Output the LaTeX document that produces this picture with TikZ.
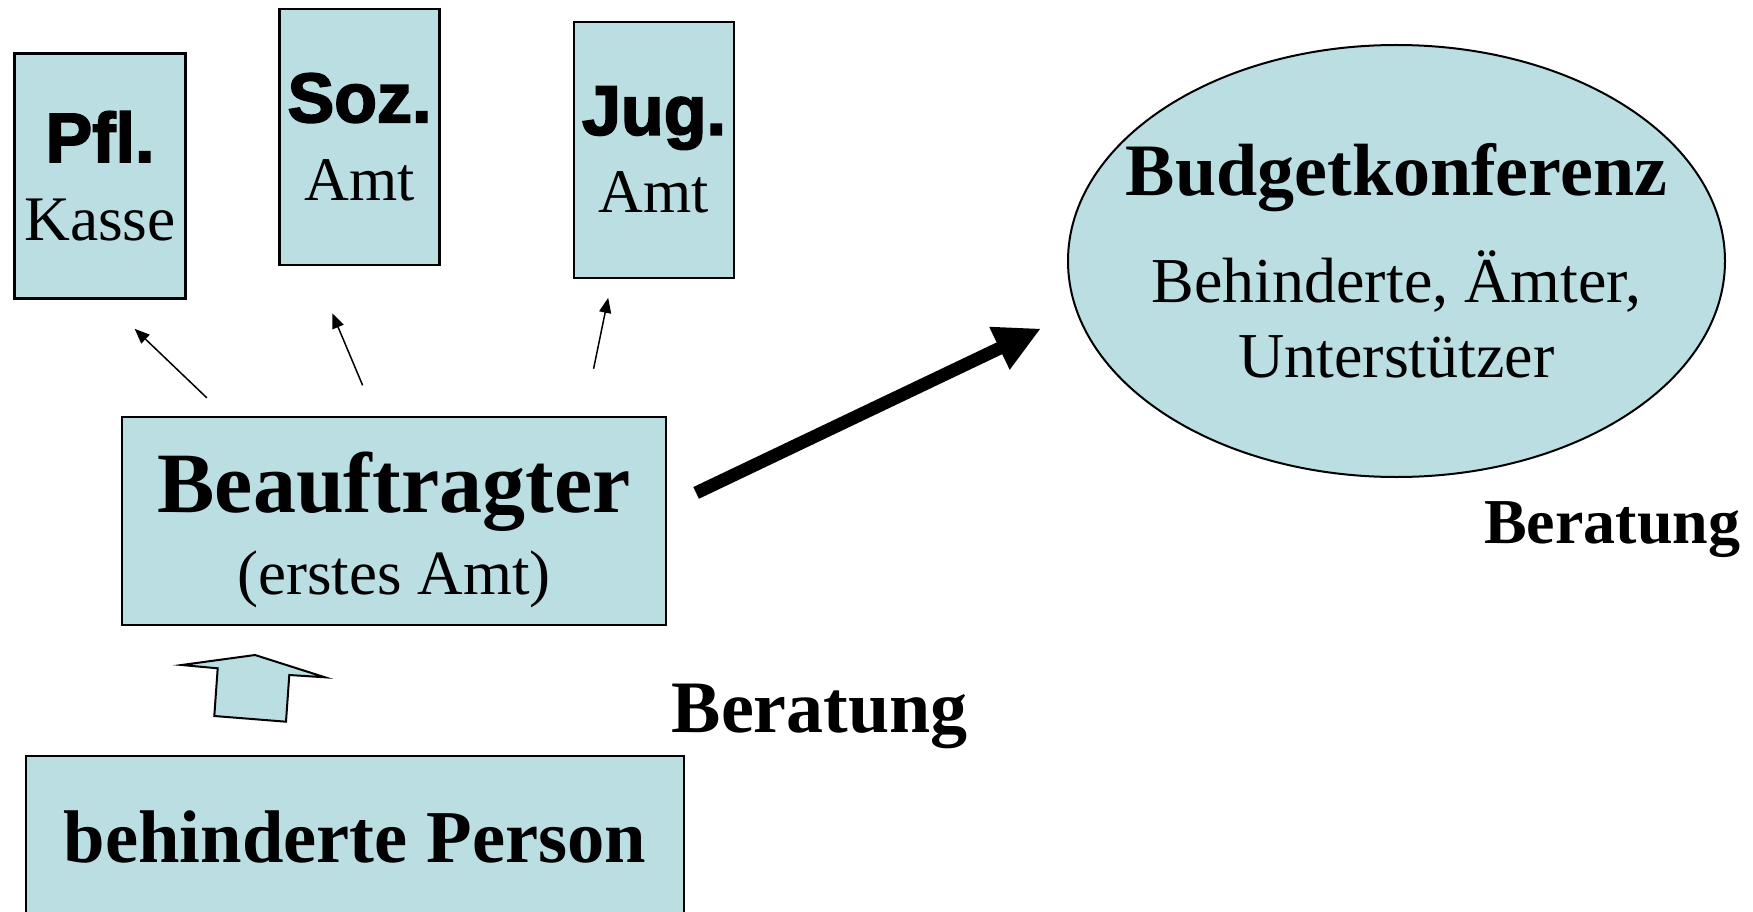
\documentclass[tikz,border=0pt]{standalone}
\usepackage{fontspec}
\setmainfont{Liberation Serif}
\newfontfamily\amtsans[FakeBold=2.5]{Liberation Sans}
\usetikzlibrary{arrows.meta,shapes.geometric}
\definecolor{budget@blue}{RGB}{187,222,227}
\newcommand\amthead[1]{{\amtsans\bfseries\fontsize{70}{78}\selectfont #1}}
\tikzset{
  budget/.style={
    x=1pt, y=-1pt,
    >={Triangle[length=15pt,width=12pt]},
    line width=1.5pt
  },
  amtbox/.style={                  % small office box
    draw, line width=2.5pt,
    fill=budget@blue,
    align=center,
    inner sep=0pt,
    minimum width=160pt,
    minimum height=256pt,
    font=\fontsize{62}{78}\selectfont
  },
  mainbox/.style={                 % wide box
    draw, line width=2.5pt,
    fill=budget@blue,
    align=center,
    inner sep=0pt
  },
  confell/.style={                 % conference ellipse
    ellipse, draw, line width=2pt,
    fill=budget@blue,
    align=center,
    inner xsep=-60pt, inner ysep=0pt,
    minimum width=657pt,
    minimum height=432pt,
    font=\fontsize{64}{75}\selectfont
  },
  amtarrow/.style={->, line width=1.5pt},
  bigarrow/.style={-{Triangle[length=46pt,width=44pt]}, line width=13pt},
  blockarrow/.style={draw, fill=budget@blue, line width=2pt, line join=miter},
  beratung/.style={font=\bfseries\fontsize{74}{74}\selectfont, inner sep=0pt}
}
\begin{document}
\begin{tikzpicture}[budget]
\useasboundingbox (0,0) rectangle (1753,912);
\clip (0,0) rectangle (1753,912);

% Offices in a row at the top
\node[amtbox, minimum width=171pt, minimum height=245pt,
  font=\fontsize{63.5}{78}\selectfont] (pfl) at (100,176)
  {\amthead{Pfl.}\\Kasse};
\node[amtbox] (soz) at (359.5,137) {\amthead{Soz.}\\Amt};
\node[amtbox] (jug) at (654,150) {\amthead{Jug.}\\Amt};

% First office
\node[mainbox, minimum width=544pt, minimum height=208pt,
  font=\fontsize{63}{82}\selectfont] (beau) at (394,521)
  {\rule{0pt}{78pt}{\bfseries\fontsize{86}{82}\selectfont Beauftragter}\\(erstes Amt)};

% Person at the bottom
\node[mainbox, minimum width=658pt, minimum height=162pt,
  font=\bfseries\fontsize{74.6}{90}\selectfont] (person) at (355,837)
  {behinderte Person};

% Budget conference
\node[confell] (conf) at (1396.5,261)
  {{\bfseries\fontsize{74}{75}\selectfont Budgetkonferenz}\\[32pt]Behinderte, Ämter,\\Unterstützer};

% Beratung labels
\node[beratung, anchor=base west] (berlow) at (671,732) {Beratung};
\node[beratung, font=\bfseries\fontsize{64}{64}\selectfont, anchor=base east]
  (berright) at (1741,543) {Beratung};

% First office passes on to the others
\draw[amtarrow, shorten <=26pt, shorten >=42pt] (beau.148) -- (pfl.272.5);
\draw[amtarrow, shorten <=33pt, shorten >=51pt] (beau.100.2) -- (soz.250.5);
\draw[amtarrow, shorten <=48pt, shorten >=19pt] (beau.29.2) -- (jug.252.1);

% Thick arrow to the conference
\draw[bigarrow, shorten <=32pt, shorten >=39pt] (beau.3) -- (conf.189.15);

% Block arrow from the person upwards
\path[blockarrow] (181.7,665) -- (255,655) -- (325,677.3) -- (289.3,675)
  -- (286,721.7) -- (214.3,716) -- (217.7,668.3) -- cycle;

\end{tikzpicture}
\end{document}
